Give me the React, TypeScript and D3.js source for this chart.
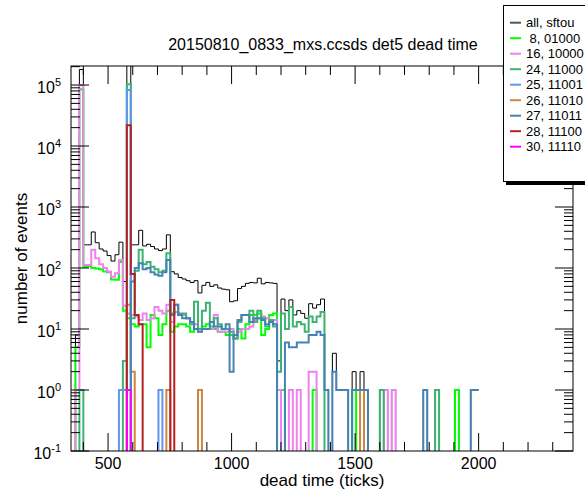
import React from 'react';
import * as d3 from 'd3';

// histogram binning (dead time ticks)
const binStart = 352;
const binWidth = 16;
const binEnd = 2000;
const nBins = (binEnd - binStart) / binWidth;

// counts per bin from 352 up to the 1376 bin, then sparse [binLowEdge, count]
const allDense = [0, 8, 180000, 240, 240, 390, 260, 205, 190, 160, 130, 165, 265, 60, 230000, 240,
  240, 415, 230, 245, 225, 205, 193, 205, 350, 87, 80, 70, 66, 62, 58, 62, 39, 52, 58, 50, 53, 47,
  45, 44, 28, 29, 46, 50, 56, 58, 57, 68, 55, 58, 57, 56, 3, 31, 20, 30, 17, 20, 18, 15, 26, 22, 25, 31, 1];
const allBins = [[1408, 4], [1424, 1], [1440, 1], [1456, 1], [1488, 2], [1504, 1], [1520, 2], [1536, 1],
  [1600, 1], [1616, 1], [1648, 1], [1776, 1], [1824, 1], [1904, 1], [1968, 1], [1984, 1]];

const c8Dense = [0, 5, 85000, 105, 108, 100, 98, 95, 88, 85, 65, 64, 125, 20, 15, 12, 11, 12, 12, 5,
  17, 15, 8, 12, 20, 9, 11, 12, 12, 11, 9, 12, 10, 11, 12, 11, 10, 9, 9, 8, 8, 7, 10, 7, 12, 17, 17,
  18, 8, 10, 17, 18, 0, 1, 0, 0, 0, 0, 0, 0, 0, 1, 0, 0, 0];
const c8Bins = [[1488, 1], [1904, 1]];

const c16Dense = [0, 1, 100000, 112, 112, 200, 145, 115, 100, 88, 72, 82, 135, 24, 18, 17, 16, 14, 18,
  14, 15, 23, 20, 18, 25, 13, 19, 17, 17, 15, 13, 12, 9, 10, 10, 10, 17, 9, 9, 9, 10, 7, 9, 10, 10, 11,
  14, 15, 16, 15, 13, 14, 1, 0, 0, 1, 0, 1, 0, 0, 2, 2, 0, 0, 0];
const c16Bins = [[1616, 1], [1648, 1]];

const c24Dense = [0, 0, 1, 0, 0, 0, 0, 0, 0, 0, 0, 0, 0, 3, 103000, 15, 90, 200, 115, 125, 105, 95, 85,
  90, 175, 18, 25, 18, 18, 15, 12, 28, 10, 20, 27, 13, 15, 12, 10, 10, 9, 7, 13, 17, 17, 20, 13, 20, 15,
  11, 14, 11, 2, 18, 10, 23, 11, 13, 12, 9, 16, 13, 16, 19, 0];
const c24Bins = [[1600, 1], [1824, 1]];

const c25Bins = [[544, 1], [560, 1], [576, 83000], [704, 1]];

const c26Bins = [[576, 25], [592, 2], [736, 1], [864, 1], [1520, 1]];

const c27Dense = [0, 0, 0, 0, 0, 0, 0, 0, 0, 0, 0, 0, 0, 0, 0, 60, 100, 120, 95, 100, 85, 78, 75, 85, 135,
  17, 25, 17, 15, 15, 13, 10, 9, 10, 10, 13, 11, 11, 10, 12, 2, 8, 14, 17, 17, 13, 15, 15, 14, 12, 13, 12,
  0, 0, 6, 5, 5, 6, 6, 6, 8, 8, 9, 8, 1];
const c27Bins = [[1408, 2], [1424, 1], [1440, 1], [1456, 1], [1488, 1], [1504, 1], [1520, 1], [1536, 1],
  [1776, 1], [1968, 1], [1984, 1]];

const c28Bins = [[576, 22000], [592, 80], [608, 17], [624, 12], [752, 30]];

const c30Bins = [[576, 1]];

const seriesNames = ['all, sftou', ' 8, 01000', '16, 10000', '24, 11000', '25, 11001',
  '26, 11010', '27, 11011', '28, 11100', '30, 11110'];
const seriesColors = ['#000000', '#00ff00', '#ee82ee', '#3cb371', '#6495ed',
  '#cd853f', '#4682b4', '#b22222', '#ff00ff'];

const xMajor = [500, 1000, 1500, 2000];
const yExponents = [-1, 0, 1, 2, 3, 4, 5];

function fillBins(dense: number[], pairs: number[][]) {
  const a = new Array(nBins).fill(0);
  dense.forEach((v, i) => { a[i] = v; });
  pairs.forEach(([e, v]) => { a[(e - binStart) / binWidth] = v; });
  return a;
}

const series = [
  fillBins(allDense, allBins),
  fillBins(c8Dense, c8Bins),
  fillBins(c16Dense, c16Bins),
  fillBins(c24Dense, c24Bins),
  fillBins([], c25Bins),
  fillBins([], c26Bins),
  fillBins(c27Dense, c27Bins),
  fillBins([], c28Bins),
  fillBins([], c30Bins),
];

const W = 585;
const H = 491;
const font = '"Liberation Sans", Arial, Helvetica, sans-serif';

export default function App() {
  const left = 71, right = 573, top = 66, bottom = 451;
  const yMin = 0.1;

  const x = d3.scaleLinear().domain([350, 2382]).range([left, right]);
  const y = d3.scaleLog().domain([yMin, 2.05e5]).range([bottom, top]);

  // empty bins are pushed under the frame so they get clipped away
  const line = d3.line<number[]>()
    .x(d => x(d[0]))
    .y(d => (d[1] > 0 ? y(d[1]) : bottom + 6))
    .curve(d3.curveStepAfter);

  const paths = series.map(counts => {
    const pts = counts.map((c, i) => [binStart + i * binWidth, c]);
    pts.push([binEnd, counts[counts.length - 1]]);
    return line(pts) as string;
  });

  const xMinor = d3.range(400, 2400, 100).filter(t => !xMajor.includes(t) && x(t) < right);
  const yMinor: number[] = [];
  yExponents.forEach(e => {
    for (let k = 2; k <= 9; k++) {
      const v = k * Math.pow(10, e);
      if (v < y.domain()[1]) yMinor.push(v);
    }
  });

  const majLen = 18, minLen = 9;

  return (
    <svg width={W} height={H} style={{ position: 'absolute', left: 0, top: 0, background: '#fff' }}
      fontFamily={font}>
      <defs>
        <clipPath id="frame">
          <rect x={left} y={top} width={right - left} height={bottom - top} />
        </clipPath>
      </defs>

      <text x={323} y={50} fontSize={16} textAnchor="middle">20150810_0833_mxs.ccsds det5 dead time</text>

      <g clipPath="url(#frame)">
        {paths.map((d, i) => (
          <path key={i} d={d} fill="none" stroke={seriesColors[i]} strokeWidth={i === 0 ? 1 : 2} />
        ))}
      </g>

      {/* ticks */}
      <g stroke="#000" strokeWidth={1}>
        {xMajor.map(t => (
          <g key={'xM' + t}>
            <line x1={x(t)} x2={x(t)} y1={bottom} y2={bottom - majLen} />
            <line x1={x(t)} x2={x(t)} y1={top} y2={top + majLen} />
          </g>
        ))}
        {xMinor.map(t => (
          <g key={'xm' + t}>
            <line x1={x(t)} x2={x(t)} y1={bottom} y2={bottom - minLen} />
            <line x1={x(t)} x2={x(t)} y1={top} y2={top + minLen} />
          </g>
        ))}
        {yExponents.map(e => (
          <g key={'yM' + e}>
            <line x1={left} x2={left + majLen} y1={y(Math.pow(10, e))} y2={y(Math.pow(10, e))} />
            <line x1={right} x2={right - majLen} y1={y(Math.pow(10, e))} y2={y(Math.pow(10, e))} />
          </g>
        ))}
        {yMinor.map(v => (
          <g key={'ym' + v}>
            <line x1={left} x2={left + minLen} y1={y(v)} y2={y(v)} />
            <line x1={right} x2={right - minLen} y1={y(v)} y2={y(v)} />
          </g>
        ))}
      </g>

      <rect x={left} y={top} width={right - left} height={bottom - top} fill="none" stroke="#000" strokeWidth={1} />

      {/* tick labels */}
      {xMajor.map(t => (
        <text key={'xl' + t} x={x(t)} y={468.5} fontSize={16} textAnchor="middle">{t}</text>
      ))}
      {yExponents.map(e => (
        <text key={'yl' + e} x={61} y={y(Math.pow(10, e)) + 8} fontSize={16} textAnchor="end">
          10<tspan fontSize={11} dy={-7}>{e}</tspan>
        </text>
      ))}

      <text x={(left + right) / 2} y={486} fontSize={17} textAnchor="middle">dead time (ticks)</text>
      <text transform={`translate(27,${(top + bottom) / 2}) rotate(-90)`} fontSize={17} textAnchor="middle">
        number of events
      </text>

      {/* legend */}
      <rect x={506} y={8} width={100} height={177} fill="#000" />
      <rect x={503.5} y={5.5} width={100} height={176} fill="#fff" stroke="#000" strokeWidth={1} />
      {seriesNames.map((name, i) => {
        const cy = 22.7 + i * 15.5;
        return (
          <g key={'lg' + i}>
            <line x1={510} x2={521} y1={cy} y2={cy} stroke={i === 0 ? '#555' : seriesColors[i]} strokeWidth={2} />
            <text x={526} y={cy + 4.5} fontSize={13} style={{ whiteSpace: 'pre' }}>{name}</text>
          </g>
        );
      })}
    </svg>
  );
}
